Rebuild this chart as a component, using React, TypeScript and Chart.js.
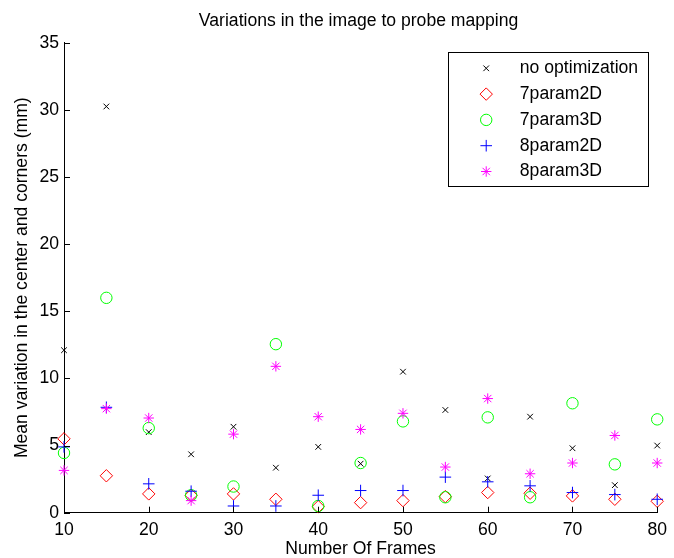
import React, { useEffect, useRef } from 'react';
import { Chart, registerables } from 'chart.js';
import { drawPoint } from 'chart.js/helpers';

Chart.register(...registerables);

const titleText = 'Variations in the image to probe mapping';
const xTitle = 'Number Of Frames';
const yTitle = 'Mean variation in the center and corners (mm)';

const frames = [10, 15, 20, 25, 30, 35, 40, 45, 50, 55, 60, 65, 70, 75, 80];
const noOptimization = [12.1, 30.25, 6.0, 4.35, 6.4, 3.35, 4.9, 3.65, 10.5, 7.65, 2.55, 7.15, 4.8, 2.05, 5.0];
const param7_2D = [5.5, 2.75, 1.4, 1.3, 1.4, 1.0, 0.45, 0.75, 0.9, 1.2, 1.5, 1.45, 1.25, 1.0, 0.85];
const param7_3D = [4.45, 16.0, 6.3, 1.3, 1.95, 12.55, 0.5, 3.7, 6.8, 1.15, 7.1, 1.15, 8.15, 3.6, 6.95];
const param8_2D = [4.9, 7.85, 2.15, 1.6, 0.5, 0.5, 1.3, 1.65, 1.65, 2.65, 2.3, 2.0, 1.5, 1.35, 1.0];
const param8_3D = [3.15, 7.75, 7.05, 0.9, 5.85, 10.9, 7.15, 6.2, 7.4, 3.4, 8.5, 2.9, 3.7, 5.75, 3.7];

const seriesNames = ['no optimization', '7param2D', '7param3D', '8param2D', '8param3D'];
const seriesValues = [noOptimization, param7_2D, param7_3D, param8_2D, param8_3D];
const seriesColors = ['#000000', '#ff0000', '#00ff00', '#0000ff', '#ff00ff'];
const seriesStyles = ['crossRot', 'rectRot', 'circle', 'cross', 'star'];
const seriesRadius = [4, 6.2, 5.7, 5.8, 5.2];

const xTicks = [10, 20, 30, 40, 50, 60, 70, 80];
const yTicks = [0, 5, 10, 15, 20, 25, 30, 35];

const FONT = 'Liberation Sans, Arial, Helvetica, sans-serif';
const FS = 17.6;

const inwardTicks = {
  id: 'inwardTicks',
  afterDatasetsDraw(chart: any) {
    const { ctx, chartArea, scales } = chart;
    ctx.save();
    ctx.strokeStyle = '#000';
    ctx.lineWidth = 1;
    ctx.beginPath();
    for (const v of yTicks) {
      const y = Math.round(scales.y.getPixelForValue(v)) + 0.5;
      ctx.moveTo(chartArea.left, y);
      ctx.lineTo(chartArea.left + 6, y);
    }
    for (const v of xTicks) {
      const x = Math.round(scales.x.getPixelForValue(v)) + 0.5;
      ctx.moveTo(x, chartArea.bottom);
      ctx.lineTo(x, chartArea.bottom - 6);
    }
    ctx.stroke();
    ctx.restore();
  },
};

const axesTitle = {
  id: 'axesTitle',
  afterDraw(chart: any) {
    const { ctx, chartArea } = chart;
    ctx.save();
    ctx.font = `${FS}px ${FONT}`;
    ctx.fillStyle = '#000';
    ctx.textAlign = 'center';
    ctx.textBaseline = 'middle';
    ctx.fillText(titleText, (chartArea.left + chartArea.right) / 2 - 2, 21.5);
    ctx.restore();
  },
};

const boxLegend = {
  id: 'boxLegend',
  afterDraw(chart: any) {
    const { ctx, chartArea } = chart;
    const right = chartArea.right - 9;
    const top = chartArea.top + 9.6;
    const w = 200;
    const h = 134;
    const left = right - w;
    ctx.save();
    ctx.fillStyle = '#fff';
    ctx.fillRect(left, top, w, h);
    ctx.strokeStyle = '#000';
    ctx.lineWidth = 1;
    ctx.strokeRect(Math.round(left) + 0.5, Math.round(top) + 0.5, w, h);
    ctx.font = `${FS}px ${FONT}`;
    ctx.textBaseline = 'middle';
    ctx.textAlign = 'left';
    seriesNames.forEach((name, i) => {
      const y = top + 16 + i * 25.8;
      ctx.strokeStyle = seriesColors[i];
      ctx.fillStyle = 'rgba(0,0,0,0)';
      ctx.lineWidth = 1;
      drawPoint(
        ctx,
        {
          pointStyle: seriesStyles[i],
          radius: seriesRadius[i],
          rotation: 0,
          borderWidth: 1,
        } as any,
        left + 38,
        y
      );
      ctx.fillStyle = '#000';
      ctx.fillText(name, left + 71.6, y);
    });
    ctx.restore();
  },
};

export default function App() {
  const ref = useRef<HTMLCanvasElement | null>(null);

  useEffect(() => {
    if (!ref.current) return;
    const datasets = seriesNames.map((name, i) => ({
      label: name,
      data: frames.map((f, j) => ({ x: f, y: seriesValues[i][j] })),
      showLine: false,
      pointStyle: seriesStyles[i],
      pointRadius: seriesRadius[i],
      pointHoverRadius: seriesRadius[i],
      pointBorderColor: seriesColors[i],
      pointBackgroundColor: 'rgba(0,0,0,0)',
      pointBorderWidth: 1,
      borderColor: seriesColors[i],
      backgroundColor: 'rgba(0,0,0,0)',
      clip: false as any,
      order: seriesNames.length - i,
    }));
    const chart = new Chart(ref.current, {
      type: 'scatter',
      data: { datasets },
      plugins: [inwardTicks, axesTitle, boxLegend],
      options: {
        animation: false,
        responsive: false,
        maintainAspectRatio: false,
        devicePixelRatio: 1,
        layout: { padding: { left: 0, right: 12, top: 42.7, bottom: 0 } },
        plugins: {
          legend: { display: false },
          tooltip: { enabled: false },
          title: { display: false },
        },
        scales: {
          x: {
            type: 'linear',
            min: 10,
            max: 80,
            afterBuildTicks: (scale: any) => {
              scale.ticks = xTicks.map((v) => ({ value: v }));
            },
            afterFit: (scale: any) => {
              scale.height = 45.3;
            },
            grid: { display: false, drawTicks: false },
            border: { display: true, color: '#000', width: 1 },
            ticks: {
              color: '#000',
              font: { family: FONT, size: FS },
              padding: 7,
              maxRotation: 0,
              autoSkip: false,
            },
            title: {
              display: true,
              text: xTitle,
              color: '#000',
              font: { family: FONT, size: FS },
              padding: { top: 0, bottom: -1.5 },
            },
          },
          y: {
            type: 'linear',
            min: 0,
            max: 35,
            afterBuildTicks: (scale: any) => {
              scale.ticks = yTicks.map((v) => ({ value: v }));
            },
            afterFit: (scale: any) => {
              scale.width = 64;
            },
            grid: { display: false, drawTicks: false },
            border: { display: true, color: '#000', width: 1 },
            ticks: {
              color: '#000',
              font: { family: FONT, size: FS },
              padding: 5,
              autoSkip: false,
            },
            title: {
              display: true,
              text: yTitle,
              color: '#000',
              font: { family: FONT, size: FS },
              padding: { top: 12, bottom: 0 },
            },
          },
        },
      },
    });
    return () => chart.destroy();
  }, []);

  return (
    <div style={{ position: 'fixed', left: 0, top: 0, width: 674, height: 558, background: '#fff' }}>
      <canvas ref={ref} width={674} height={558} style={{ width: 674, height: 558, display: 'block' }} />
    </div>
  );
}
